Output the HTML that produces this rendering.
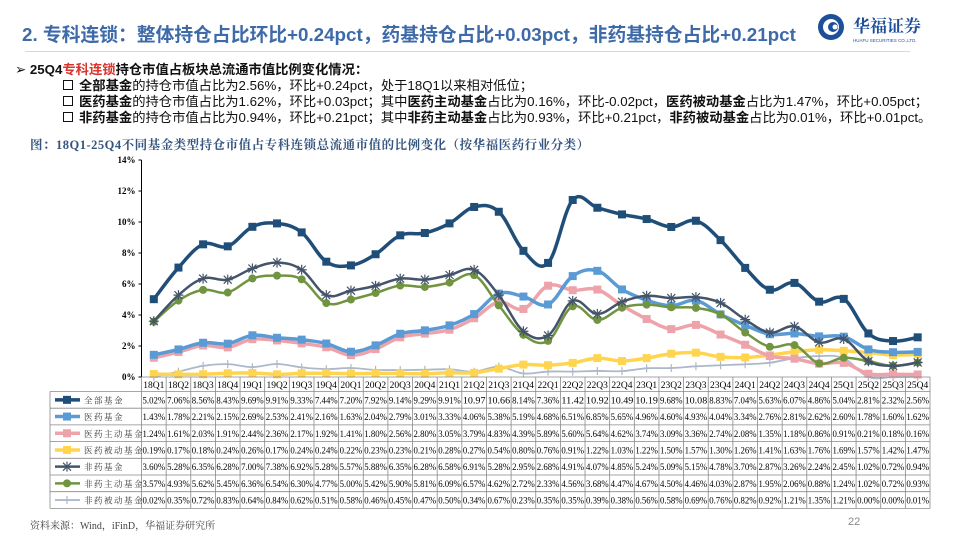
<!DOCTYPE html>
<html><head><meta charset="utf-8">
<style>
body{margin:0;width:960px;height:540px;overflow:hidden;background:#fff;font-family:"Liberation Sans","Noto Sans CJK SC",sans-serif;position:relative}
.title{position:absolute;left:22px;top:20px;font-size:18.8px;font-weight:bold;color:#3e6aa8;white-space:nowrap}
.hr{position:absolute;left:25px;top:51px;width:885px;height:1px;background:#d8d8d8}
.txt{position:absolute;left:15px;top:62px;font-size:13.3px;line-height:16px;color:#111;white-space:nowrap}
.txt b{font-weight:bold}
.red{color:#d9342b}
.sub{padding-left:48px}
.box{display:inline-block;width:8px;height:8px;border:1.6px solid #111;margin-right:6px;vertical-align:0px}
.cap{position:absolute;left:30px;top:135px;font-family:"Liberation Serif","Noto Serif CJK SC",serif;font-size:12.5px;font-weight:bold;color:#34557f;white-space:nowrap;letter-spacing:0.5px}
.foot{position:absolute;left:30px;top:517px;font-family:"Liberation Serif","Noto Serif CJK SC",serif;font-size:10px;color:#444}
.pg{position:absolute;left:848px;top:516px;font-size:11px;color:#888}
.logo{position:absolute;left:815px;top:12px}
</style></head><body>
<div class="title">2. 专科连锁：整体持仓占比环比+0.24pct，药基持仓占比+0.03pct，非药基持仓占比+0.21pct</div>
<div class="logo">
<svg width="115" height="32"><circle cx="16" cy="15" r="13" fill="#1d4f9a"/><circle cx="16" cy="15" r="8" fill="#fff"/><circle cx="18" cy="15" r="5" fill="#1d4f9a"/><circle cx="20" cy="15" r="2.5" fill="#fff"/>
<text x="38" y="20" font-size="17" font-weight="bold" fill="#1d4f9a" font-family="Noto Serif CJK SC,serif">华福证券</text>
<text x="38" y="30" font-size="4.5" fill="#1d4f9a">HUAFU SECURITIES CO.,LTD.</text></svg></div>
<div class="hr"></div>
<div class="txt">
<div>➢ <b>25Q4<span class="red">专科连锁</span>持仓市值占板块总流通市值比例变化情况：</b></div>
<div class="sub"><span class="box"></span><b>全部基金</b>的持仓市值占比为2.56%，环比+0.24pct，处于18Q1以来相对低位；</div>
<div class="sub"><span class="box"></span><b>医药基金</b>的持仓市值占比为1.62%，环比+0.03pct；其中<b>医药主动基金</b>占比为0.16%，环比-0.02pct，<b>医药被动基金</b>占比为1.47%，环比+0.05pct；</div>
<div class="sub"><span class="box"></span><b>非药基金</b>的持仓市值占比为0.94%，环比+0.21pct；其中<b>非药主动基金</b>占比为0.93%，环比+0.21pct，<b>非药被动基金</b>占比为0.01%，环比+0.01pct。</div>
</div>
<div class="cap">图：18Q1-25Q4不同基金类型持仓市值占专科连锁总流通市值的比例变化（按华福医药行业分类）</div>
<svg id="chart" width="960" height="540" style="position:absolute;left:0;top:0"></svg>
<div class="foot">资料来源：Wind，iFinD，华福证券研究所</div>
<div class="pg">22</div>
<script>
const categories=["18Q1","18Q2","18Q3","18Q4","19Q1","19Q2","19Q3","19Q4","20Q1","20Q2","20Q3","20Q4","21Q1","21Q2","21Q3","21Q4","22Q1","22Q2","22Q3","22Q4","23Q1","23Q2","23Q3","23Q4","24Q1","24Q2","24Q3","24Q4","25Q1","25Q2","25Q3","25Q4"];
const seriesNames=["全部基金","医药基金","医药主动基金","医药被动基金","非药基金","非药主动基金","非药被动基金"];
const allFunds=[5.02,7.06,8.56,8.43,9.69,9.91,9.33,7.44,7.20,7.92,9.14,9.29,9.91,10.97,10.66,8.14,7.36,11.42,10.92,10.49,10.19,9.68,10.08,8.83,7.04,5.63,6.07,4.86,5.04,2.81,2.32,2.56];
const medFunds=[1.43,1.78,2.21,2.15,2.69,2.53,2.41,2.16,1.63,2.04,2.79,3.01,3.33,4.06,5.38,5.19,4.68,6.51,6.85,5.65,4.96,4.60,4.93,4.04,3.34,2.76,2.81,2.62,2.60,1.78,1.60,1.62];
const medActive=[1.24,1.61,2.03,1.91,2.44,2.36,2.17,1.92,1.41,1.80,2.56,2.80,3.05,3.79,4.83,4.39,5.89,5.60,5.64,4.62,3.74,3.09,3.36,2.74,2.08,1.35,1.18,0.86,0.91,0.21,0.18,0.16];
const medPassive=[0.19,0.17,0.18,0.24,0.26,0.17,0.24,0.24,0.22,0.23,0.23,0.21,0.28,0.27,0.54,0.80,0.76,0.91,1.22,1.03,1.22,1.50,1.57,1.30,1.26,1.41,1.63,1.76,1.69,1.57,1.42,1.47];
const nonMed=[3.60,5.28,6.35,6.28,7.00,7.38,6.92,5.28,5.57,5.88,6.35,6.28,6.58,6.91,5.28,2.95,2.68,4.91,4.07,4.85,5.24,5.09,5.15,4.78,3.70,2.87,3.26,2.24,2.45,1.02,0.72,0.94];
const nonMedActive=[3.57,4.93,5.62,5.45,6.36,6.54,6.30,4.77,5.00,5.42,5.90,5.81,6.09,6.57,4.62,2.72,2.33,4.56,3.68,4.47,4.67,4.50,4.46,4.03,2.87,1.95,2.06,0.88,1.24,1.02,0.72,0.93];
const nonMedPassive=[0.02,0.35,0.72,0.83,0.64,0.84,0.62,0.51,0.58,0.46,0.45,0.47,0.50,0.34,0.67,0.23,0.35,0.35,0.39,0.38,0.56,0.58,0.69,0.76,0.82,0.92,1.21,1.35,1.21,0.00,0.00,0.01];
const yTicks=[0,2,4,6,8,10,12,14];

const svg=document.getElementById('chart');
const NS='http://www.w3.org/2000/svg';
const x0=141.5,x1=930,y0=377,yMax=14,yTopPx=160;
const cw=(x1-x0)/categories.length;
const xs=i=>x0+cw*(i+0.5);
const ys=v=>y0-(v/yMax)*(y0-yTopPx);
function mk(t,a,p){const e=document.createElementNS(NS,t);for(const k in a)e.setAttribute(k,a[k]);(p||svg).appendChild(e);return e;}
const series=[
{d:allFunds,c:"#1f4e79",w:3.5,m:"sq",n:"series-all-funds"},
{d:medFunds,c:"#5b9bd5",w:3.5,m:"sq",n:"series-med-funds"},
{d:medActive,c:"#eea3ab",w:3.5,m:"sq",n:"series-med-active"},
{d:medPassive,c:"#ffd54f",w:3.5,m:"sq",n:"series-med-passive"},
{d:nonMed,c:"#44546a",w:2.5,m:"star",n:"series-nonmed-funds"},
{d:nonMedActive,c:"#70943f",w:2.5,m:"dot",n:"series-nonmed-active"},
{d:nonMedPassive,c:"#adb9ca",w:1.8,m:"plus",n:"series-nonmed-passive"}];
const ax=mk('line',{x1:x0,y1:yTopPx,x2:x0,y2:y0,stroke:'#000','stroke-width':1});


yTicks.forEach(t=>{
 const tx=mk('text',{x:x0-6,y:ys(t)+3,'text-anchor':'end','font-size':9,'font-family':'Liberation Serif,serif','font-weight':'bold'});
 tx.textContent=t+'%';
 
 
 mk('line',{x1:x0-3,y1:ys(t),x2:x0,y2:ys(t),stroke:'#000'});
});
function smooth(pts){let d=`M${pts[0][0]},${pts[0][1]}`;for(let i=0;i<pts.length-1;i++){const p0=pts[i-1]||pts[i],p1=pts[i],p2=pts[i+1],p3=pts[i+2]||p2;const t=0.18;d+=` C${p1[0]+(p2[0]-p0[0])*t},${p1[1]+(p2[1]-p0[1])*t} ${p2[0]-(p3[0]-p1[0])*t},${p2[1]-(p3[1]-p1[1])*t} ${p2[0]},${p2[1]}`;}return d;}
function marker(m,x,y,c,g){
 if(m==='sq')mk('rect',{x:x-4,y:y-4,width:8,height:8,fill:c},g);
 else if(m==='dot')mk('circle',{cx:x,cy:y,r:4,fill:c},g);
 else if(m==='star'){mk('path',{d:`M${x-5},${y}H${x+5}M${x},${y-5}V${y+5}M${x-4},${y-4}L${x+4},${y+4}M${x-4},${y+4}L${x+4},${y-4}`,stroke:c,'stroke-width':1.2},g);}
 else mk('path',{d:`M${x-4},${y}H${x+4}M${x},${y-4}V${y+4}`,stroke:c,'stroke-width':1.2},g);
}
[6,3,2,1,5,4,0].forEach(si=>{
 const s=series[si];
 const g=mk('g',{});
 
 
 const pts=s.d.map((v,i)=>[xs(i),ys(v)]);
 mk('path',{d:smooth(pts),fill:'none',stroke:s.c,'stroke-width':s.w,'stroke-linejoin':'round'},g);
 pts.forEach(p=>marker(s.m,p[0],p[1],s.c,g));
});
const ht=14.5,rh=16.7,lx=50;
const tb=mk('g',{});


const rows=series.length, tBottom=y0+ht+rh*rows;
mk('line',{x1:x0,y1:y0,x2:x1,y2:y0,stroke:'#888','stroke-width':0.8},tb);
mk('line',{x1:lx,y1:y0+ht,x2:x1,y2:y0+ht,stroke:'#888','stroke-width':0.8},tb);
for(let r=1;r<=rows;r++)mk('line',{x1:lx,y1:y0+ht+rh*r,x2:x1,y2:y0+ht+rh*r,stroke:'#888','stroke-width':0.8},tb);
mk('line',{x1:lx,y1:y0+ht,x2:lx,y2:tBottom,stroke:'#888','stroke-width':0.8},tb);
for(let i=0;i<=categories.length;i++)mk('line',{x1:x0+cw*i,y1:y0,x2:x0+cw*i,y2:tBottom,stroke:'#888','stroke-width':0.8},tb);
categories.forEach((c,i)=>{const t=mk('text',{x:xs(i),y:y0+11,'text-anchor':'middle','font-size':9.5,'font-family':'Liberation Serif,serif'},tb);t.textContent=c;
 
 });
series.forEach((s,r)=>{
 const cy=y0+ht+rh*r+rh/2;
 mk('line',{x1:lx+5,y1:cy,x2:lx+30,y2:cy,stroke:s.c,'stroke-width':s.w},tb);
 marker(s.m,lx+17,cy,s.c,tb);
 const n=mk('text',{x:lx+34,y:cy+3.5,'font-size':8.5,'font-family':'Noto Serif CJK SC,serif',fill:'#333','letter-spacing':1.5},tb);
 n.textContent=seriesNames[r];
 
 
 s.d.forEach((v,i)=>{const t=mk('text',{x:x0+cw*i+1,y:cy+3.5,'font-size':9,'font-family':'Liberation Serif,serif',textLength:cw-2,lengthAdjust:'spacingAndGlyphs'},tb);t.textContent=v>=10?v.toFixed(2):v.toFixed(2)+'%';});
});
</script>
</body></html>
